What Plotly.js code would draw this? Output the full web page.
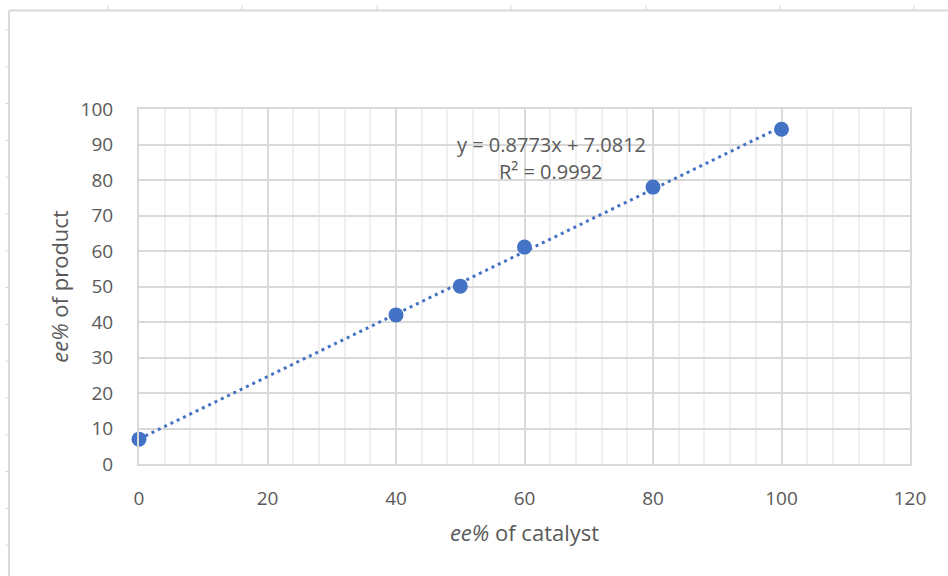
<!DOCTYPE html>
<html>
<head>
<meta charset="utf-8">
<script src="https://cdn.plot.ly/plotly-3.0.1.min.js"></script>
<style>html,body{margin:0;padding:0;background:#fff;}#chart{width:948px;height:576px;}</style>
</head>
<body>
<div id="chart"></div>
<script>
// Data
const catalystEE = [0, 40, 50, 60, 80, 100];
const productEE = [7.0, 42.0, 50.1, 61.1, 78.0, 94.3];
const xTickVals = [0, 20, 40, 60, 80, 100, 120];
const yTickVals = [0, 10, 20, 30, 40, 50, 60, 70, 80, 90, 100];
const equationText = 'y = 0.8773x + 7.0812';
const r2Text = 'R² = 0.9992';

// least-squares trendline from the data
const n = catalystEE.length;
const mx = catalystEE.reduce((a, b) => a + b, 0) / n;
const my = productEE.reduce((a, b) => a + b, 0) / n;
let sxy = 0, sxx = 0;
for (let i = 0; i < n; i++) { sxy += (catalystEE[i] - mx) * (productEE[i] - my); sxx += (catalystEE[i] - mx) ** 2; }
const slope = sxy / sxx, intercept = my - slope * mx;
const xMin = Math.min(...catalystEE), xMax = Math.max(...catalystEE);
const trendX = [xMin, xMax];
const trendY = trendX.map(x => slope * x + intercept);

const W = 948, H = 576;
const M = {l: 139, r: 38, t: 109, b: 112};
const pw = W - M.l - M.r, ph = H - M.t - M.b;
const px = p => (p - M.l) / pw;
const py = p => (H - M.b - p) / ph;

const borderColor = '#d9d9d9';
const shapes = [
  {type: 'line', xref: 'paper', yref: 'paper', x0: px(9), x1: px(948), y0: py(10.5), y1: py(10.5), line: {color: borderColor, width: 2}},
  {type: 'line', xref: 'paper', yref: 'paper', x0: px(9), x1: px(9), y0: py(10.5), y1: py(576), line: {color: borderColor, width: 2}}
];
[108, 242, 377, 511, 646, 780, 914].forEach(x => shapes.push({type: 'line', xref: 'paper', yref: 'paper', x0: px(x), x1: px(x), y0: py(5), y1: py(10), line: {color: borderColor, width: 1}}));
for (let y = 30; y < 576; y += 36.8) shapes.push({type: 'line', xref: 'paper', yref: 'paper', x0: px(5), x1: px(8), y0: py(y), y1: py(y), line: {color: borderColor, width: 1}});

const font = 'Open Sans, sans-serif';
const blue = '#4472C4';
const textColor = '#595959';

const data = [
  {x: trendX, y: trendY, mode: 'lines', type: 'scatter', line: {color: blue, width: 3, dash: '3px,4px'}, hoverinfo: 'skip', showlegend: false, cliponaxis: false},
  {x: catalystEE, y: productEE, mode: 'markers', type: 'scatter', marker: {color: blue, size: 15}, showlegend: false, cliponaxis: false}
];

const layout = {
  width: W, height: H,
  margin: M,
  paper_bgcolor: '#fff', plot_bgcolor: '#fff',
  font: {family: font, color: textColor, size: 18},
  showlegend: false,
  xaxis: {
    range: [0, 120], tickmode: 'array', tickvals: xTickVals, ticktext: xTickVals.map(String),
    showgrid: true, gridcolor: '#d9d9d9', gridwidth: 2,
    minor: {tickmode: 'linear', tick0: 0, dtick: 4, showgrid: true, gridcolor: '#f0f0f0', gridwidth: 2},
    zeroline: false, showline: true, linecolor: '#d9d9d9', linewidth: 2, mirror: true,
    ticks: '', ticklabelstandoff: 16, tickfont: {size: 19, color: textColor},
    title: {text: '<i>ee%</i> of catalyst', font: {size: 22, color: textColor}, standoff: 16}
  },
  yaxis: {
    range: [0, 100], tickmode: 'array', tickvals: yTickVals, ticktext: yTickVals.map(String),
    showgrid: true, gridcolor: '#d9d9d9', gridwidth: 2,
    zeroline: false, showline: true, linecolor: '#d9d9d9', linewidth: 2, mirror: true,
    ticks: '', ticklabelstandoff: 20, tickfont: {size: 19, color: textColor},
    title: {text: '<i>ee%</i> of product', font: {size: 22, color: textColor}, standoff: 6}
  },
  annotations: [
    {xref: 'paper', yref: 'paper', x: px(551), y: py(144), text: equationText, showarrow: false, font: {size: 20, color: textColor}, xanchor: 'center', yanchor: 'middle'},
    {xref: 'paper', yref: 'paper', x: px(551), y: py(171), text: r2Text, showarrow: false, font: {size: 20, color: textColor}, xanchor: 'center', yanchor: 'middle'}
  ],
  shapes: shapes
};

Plotly.newPlot('chart', data, layout, {displayModeBar: false, staticPlot: true});
</script>
</body>
</html>
